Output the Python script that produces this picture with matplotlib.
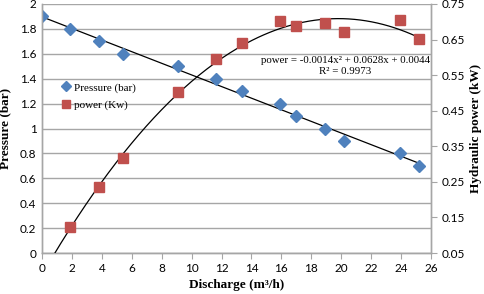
import numpy as np
from matplotlib import pyplot as plt

# discharge (m3/h), pressure (bar), hydraulic power (kW)
discharge = [0, 1.9, 3.8, 5.4, 9.1, 11.6, 13.4, 15.9, 17.0, 18.9, 20.2, 23.9, 25.2]
pressure = [1.9, 1.8, 1.7, 1.6, 1.5, 1.4, 1.3, 1.2, 1.1, 1.0, 0.9, 0.8, 0.7]
power_q = [1.9, 3.8, 5.4, 9.1, 11.6, 13.4, 15.9, 17.0, 18.9, 20.2, 23.9, 25.2]
power = [0.123, 0.236, 0.317, 0.503, 0.595, 0.640, 0.702, 0.688, 0.697, 0.671, 0.705, 0.652]

x_ticks = list(range(0, 27, 2))
p_ticks = [0, 0.2, 0.4, 0.6, 0.8, 1, 1.2, 1.4, 1.6, 1.8, 2]
pw_ticks = [0.05, 0.15, 0.25, 0.35, 0.45, 0.55, 0.65, 0.75]

BLUE = '#4F81BD'
RED = '#C0504D'
GRID = '#a6a6a6'

fig = plt.figure(figsize=(4.84, 2.94), dpi=100)
ax = fig.add_axes([42/484, 1 - 253/294, 389/484, 249/294])
ax2 = ax.twinx()

# trendlines
lin = np.polyfit(discharge, pressure, 1)
xl = np.linspace(0, 25.2, 100)
ax.plot(xl, np.polyval(lin, xl), color='black', lw=0.9, zorder=3)

quad = np.polyfit(power_q, power, 2)
xq = np.linspace(0, 25.2, 200)
ax2.plot(xq, np.polyval(quad, xq), color='black', lw=0.9, zorder=3)

ax.plot(discharge, pressure, 'D', color=BLUE, ms=6.5, mec=BLUE, zorder=4, label='Pressure (bar)')
ax2.plot(power_q, power, 's', color=RED, ms=7.5, mec=RED, zorder=4, label='power (Kw)')

ax.set_xlim(0, 26)
ax.set_ylim(0, 2)
ax2.set_ylim(0.05, 0.75)
ax.set_xticks(x_ticks)
ax.set_yticks(p_ticks)
ax.set_yticklabels(['0', '0.2', '0.4', '0.6', '0.8', '1', '1.2', '1.4', '1.6', '1.8', '2'])
ax2.set_yticks(pw_ticks)
ax2.set_yticklabels([f'{v:.2f}' for v in pw_ticks])

for t in ax.get_yticks():
    ax.axhline(t, color=GRID, lw=1, zorder=0)

for lab in ax.get_xticklabels() + ax.get_yticklabels() + ax2.get_yticklabels():
    lab.set_fontfamily('Lato')
    lab.set_fontsize(8.5)

ax.tick_params(axis='y', length=0, pad=4)
ax.tick_params(axis='x', length=4, color=GRID, direction='out', pad=3)
ax2.tick_params(axis='y', length=4, color=GRID, direction='out', pad=4)

for a in (ax, ax2):
    a.spines['top'].set_visible(False)
    for s in ('left', 'right', 'bottom'):
        a.spines[s].set_color(GRID)
        a.spines[s].set_linewidth(1)

lab_font = {'family': 'Liberation Serif', 'weight': 'bold', 'size': 9.5}
ax.set_xlabel('Discharge (m³/h)', fontdict=lab_font, labelpad=4)
ax.set_ylabel('Pressure (bar)', fontdict=lab_font, labelpad=6)
ax2.set_ylabel('Hydraulic power (kW)', fontdict=lab_font, labelpad=3)

ax.text(0.78, 0.75, 'power = -0.0014x² + 0.0628x + 0.0044\nR² = 0.9973',
        transform=ax.transAxes, ha='center', va='center', fontsize=7.8,
        family='Liberation Serif', linespacing=1.25)

h1, l1 = ax.get_legend_handles_labels()
h2, l2 = ax2.get_legend_handles_labels()
ax2.legend(h1 + h2, l1 + l2, loc='upper left', bbox_to_anchor=(0.02, 0.725), frameon=False,
           prop={'family': 'Liberation Serif', 'size': 8}, handletextpad=0.1,
           handlelength=1.2, labelspacing=0.65, markerscale=0.8)

plt.savefig('out.png', dpi=100)
